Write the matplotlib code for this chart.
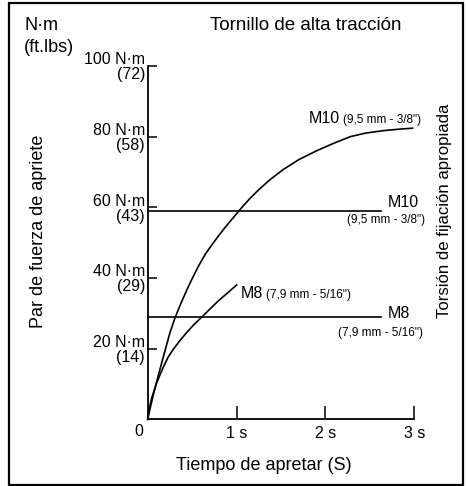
import matplotlib
matplotlib.use("Agg")
import matplotlib.pyplot as plt
from matplotlib.patches import Rectangle

# Tightening torque versus tightening time for high-tensile bolts
time_m10 = [0, 0.02, 0.05, 0.08, 0.12, 0.16, 0.2, 0.25, 0.31, 0.37, 0.44, 0.5,
            0.57, 0.65, 0.72, 0.79, 0.88, 0.96, 1.04, 1.15, 1.25, 1.38, 1.52,
            1.7, 1.9, 2.1, 2.28, 2.45, 2.65, 2.82, 2.98]
torque_m10 = [0, 2.3, 5.5, 8.6, 12.5, 16.2, 19.9, 24.5, 28.9, 32.6, 36.6, 39.8,
              43.3, 46.8, 49.3, 51.7, 54.6, 57.0, 59.4, 62.5, 65.0, 67.9, 70.6,
              73.5, 76.0, 78.2, 80.0, 81.0, 81.7, 82.1, 82.4]

time_m8 = [0, 0.01, 0.025, 0.045, 0.07, 0.1, 0.14, 0.18, 0.23, 0.29, 0.36, 0.44,
           0.52, 0.607, 0.7, 0.794, 0.9, 1.0]
torque_m8 = [0, 1.8, 3.9, 6.0, 8.0, 10.2, 12.7, 15.0, 17.6, 19.9, 22.2, 24.6,
             26.8, 28.9, 31.2, 33.5, 35.8, 38.0]

# Appropriate fastening torque (N·m) and the time span of its reference line
fastening_m10 = 59
fastening_m8 = 29
fastening_end = 2.63

y_ticks = [20, 40, 60, 80, 100]
y_tick_ftlbs = [14, 29, 43, 58, 72]
x_ticks = [1, 2, 3]
x_tick_labels = ["1 s", "2 s", "3 s"]

m10_size = "(9,5 mm - 3/8\")"
m8_size = "(7,9 mm - 5/16\")"

W, H = 466, 486
fig = plt.figure(figsize=(W / 100, H / 100), dpi=100)

REG = ["Liberation Sans", "DejaVu Sans"]


def fx(px):
    return px / W


def fy(py):
    return 1 - py / H


# frame around the whole figure
fig.patches.append(Rectangle((fx(9), fy(485)), fx(463) - fx(9), fy(3) - fy(485),
                             transform=fig.transFigure, fill=False,
                             edgecolor="black", linewidth=1.6))

ax = fig.add_axes([fx(147.7), fy(419.3), fx(414.3) - fx(147.7), fy(66) - fy(419.3)])
ax.set_xlim(0, 3)
ax.set_ylim(0, 100)
for side in ("top", "right"):
    ax.spines[side].set_visible(False)
for side in ("left", "bottom"):
    ax.spines[side].set_linewidth(1.3)

ax.set_xticks(x_ticks, x_tick_labels)
ax.set_yticks(y_ticks, [f"{v} N·m\n({f})" for v, f in zip(y_ticks, y_tick_ftlbs)])
ax.tick_params(axis="x", direction="in", length=9.5, width=1.1, pad=4.5,
               labelsize=11.5)
ax.tick_params(axis="y", direction="in", length=6.5, width=1.1, pad=2,
               labelsize=11.5)
for lab in ax.get_xticklabels() + ax.get_yticklabels():
    lab.set_family(REG)
for lab in ax.get_yticklabels():
    lab.set_linespacing(1.0)
    lab.set_multialignment("right")

lw = 1.2
ax.plot(time_m10, torque_m10, color="black", lw=lw, clip_on=False)
ax.plot(time_m8, torque_m8, color="black", lw=lw, clip_on=False)
ax.plot([0, fastening_end], [fastening_m10] * 2, color="black", lw=lw)
ax.plot([0, fastening_end], [fastening_m8] * 2, color="black", lw=lw)


def label_pair(anchor, big, small, big_off, small_off=None, small_ha="left"):
    t1 = ax.annotate(big, xy=anchor, xytext=big_off, textcoords="offset pixels",
                     ha="left", va="baseline", fontsize=11.5, family=REG,
                     annotation_clip=False)
    if small_off is None:
        ax.annotate(small, xy=(1, 0), xycoords=t1, xytext=(3, 0),
                    textcoords="offset pixels", ha="left", va="bottom",
                    fontsize=8.5, family=REG, annotation_clip=False)
    else:
        ax.annotate(small, xy=anchor, xytext=small_off, textcoords="offset pixels",
                    ha=small_ha, va="baseline", fontsize=8.5, family=REG,
                    annotation_clip=False)


# curve end labels
label_pair((time_m10[-1], torque_m10[-1]), "M10", m10_size, (-104, 5))
label_pair((time_m8[-1], torque_m8[-1]), "M8", m8_size, (4.5, -12.5))
# fastening torque line labels
label_pair((fastening_end, fastening_m10), "M10", m10_size, (6.5, 4), (44, -12),
           small_ha="right")
label_pair((fastening_end, fastening_m8), "M8", m8_size, (6.5, -1.2), (41.5, -19),
           small_ha="right")

fig.text(fx(139), fy(432), "0", ha="center", va="center", fontsize=11.5, family=REG)

fig.text(fx(24), fy(25), "N·m", ha="left", va="center", fontsize=13, family=REG)
fig.text(fx(24), fy(47), "(ft.lbs)", ha="left", va="center", fontsize=13, family=REG)
fig.text(fx(210), fy(25), "Tornillo de alta tracción", ha="left", va="center",
         fontsize=13.5, family=REG)
fig.text(fx(39), fy(231), "Par de fuerza de apriete", rotation=90, ha="center",
         va="center", fontsize=13, family=REG)
fig.text(fx(445), fy(211), "Torsión de fijación apropiada", rotation=90,
         ha="center", va="center", fontsize=12.1, family=REG)
fig.text(fx(264), fy(465), "Tiempo de apretar (S)", ha="center", va="center",
         fontsize=13, family=REG)

fig.savefig("out.png", dpi=100)
